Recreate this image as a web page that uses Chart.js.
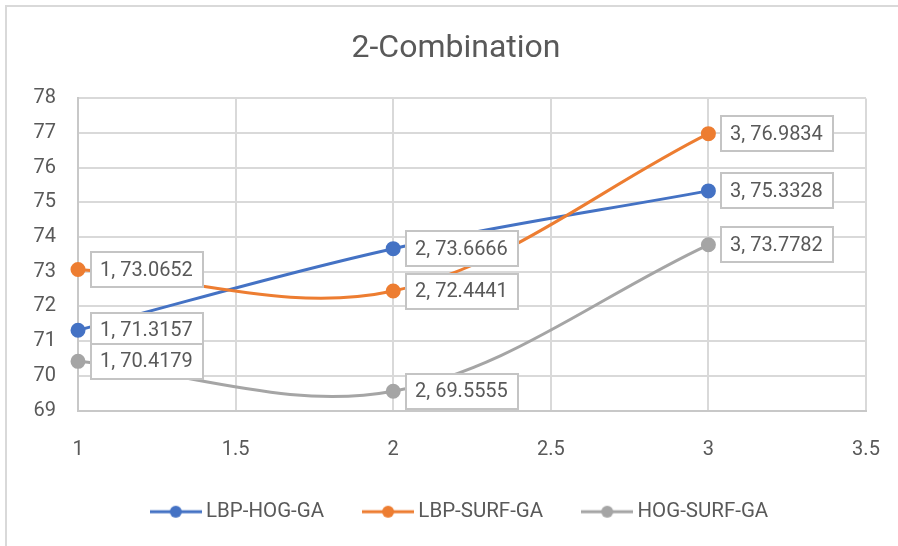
<!DOCTYPE html>
<html><head><meta charset="utf-8">
<script src="https://cdn.jsdelivr.net/npm/chart.js@4/dist/chart.umd.min.js"></script>
<style>
html,body{margin:0;padding:0;background:#fff;overflow:hidden}
#wrap{position:absolute;left:0;top:0;width:898px;height:546px;overflow:hidden}
#frame{position:absolute;left:5px;top:5px;width:1000px;height:1000px;border:2px solid #d9d9d9;box-sizing:border-box}
canvas{position:absolute;left:0;top:0}
</style></head>
<body>
<div id="wrap"><div id="frame"></div><canvas id="c" width="898" height="546"></canvas></div>
<script>
const titleText = '2-Combination';
const xValues = [1, 2, 3];
const seriesNames = ['LBP-HOG-GA', 'LBP-SURF-GA', 'HOG-SURF-GA'];
const lbpHog = [71.3157, 73.6666, 75.3328];
const lbpSurf = [73.0652, 72.4441, 76.9834];
const hogSurf = [70.4179, 69.5555, 73.7782];
const seriesColors = ['#4472C4', '#ED7D31', '#A5A5A5'];
const xTicks = [1, 1.5, 2, 2.5, 3, 3.5];
const yTicks = [69, 70, 71, 72, 73, 74, 75, 76, 77, 78];

const FONT = 'Roboto, "Liberation Sans", sans-serif';
const TXT = '#595959';

const seriesValues = [lbpHog, lbpSurf, hogSurf];

function legendIcon(color) {
  const c = document.createElement('canvas');
  c.width = 52; c.height = 14;
  const g = c.getContext('2d');
  g.strokeStyle = color; g.lineWidth = 3;
  g.beginPath(); g.moveTo(0, 7); g.lineTo(52, 7); g.stroke();
  g.fillStyle = color;
  g.beginPath(); g.arc(26, 7, 6, 0, Math.PI * 2); g.fill();
  return c;
}
const icons = seriesColors.map(legendIcon);

const datasets = seriesValues.map((vals, i) => ({
  label: seriesNames[i],
  data: xValues.map((x, j) => ({x: x, y: vals[j]})),
  borderColor: seriesColors[i],
  backgroundColor: seriesColors[i],
  pointBackgroundColor: seriesColors[i],
  pointBorderColor: seriesColors[i],
  pointRadius: 6,
  pointHoverRadius: 6,
  borderWidth: 3,
  showLine: true,
  tension: 0.35,
  clip: false,
  order: seriesValues.length - i
}));

const boxLabels = {
  id: 'boxLabels',
  afterDatasetsDraw(chart) {
    const ctx = chart.ctx;
    ctx.save();
    ctx.font = '20px ' + FONT;
    ctx.textBaseline = 'middle';
    ctx.textAlign = 'left';
    chart.data.datasets.forEach((ds, di) => {
      const meta = chart.getDatasetMeta(di);
      meta.data.forEach((pt, i) => {
        const raw = ds.data[i];
        const text = raw.x + ', ' + raw.y.toFixed(4);
        const w = Math.round(ctx.measureText(text).width + 19);
        const h = 35;
        const x = Math.round(pt.x + 13), y = Math.round(pt.y - h / 2);
        ctx.fillStyle = '#ffffff';
        ctx.fillRect(x, y, w, h);
        ctx.strokeStyle = '#c4c4c4';
        ctx.lineWidth = 2;
        ctx.strokeRect(x, y, w, h);
        ctx.fillStyle = TXT;
        ctx.fillText(text, x + 9, pt.y + 1);
      });
    });
    ctx.restore();
  }
};

const shiftBoxes = {
  id: 'shiftBoxes',
  afterLayout(chart) {
    if (chart.legend) { chart.legend.left += 29; chart.legend.right += 29; }
    if (chart.titleBlock) { chart.titleBlock.left += 23; chart.titleBlock.right += 23; }
  }
};

new Chart(document.getElementById('c'), {
  type: 'scatter',
  data: {datasets: datasets},
  plugins: [boxLabels, shiftBoxes],
  options: {
    responsive: false,
    animation: false,
    devicePixelRatio: 1,
    layout: {padding: {left: 0, right: 32, top: 0, bottom: 14}},
    plugins: {
      tooltip: {enabled: false},
      title: {
        display: true,
        text: titleText,
        color: TXT,
        font: {family: FONT, size: 32, weight: 'normal', lineHeight: 1.2},
        padding: {top: 30, bottom: 30}
      },
      legend: {
        position: 'bottom',
        labels: {
          usePointStyle: true,
          pointStyleWidth: 40,
          padding: 44,
          color: TXT,
          font: {family: FONT, size: 20.5},
          generateLabels(chart) {
            const items = Chart.defaults.plugins.legend.labels.generateLabels(chart);
            items.forEach(it => { it.pointStyle = icons[it.datasetIndex]; it.fontColor = TXT; });
            return items;
          },
          sort: (a, b) => a.datasetIndex - b.datasetIndex
        }
      }
    },
    scales: {
      x: {
        type: 'linear',
        min: xTicks[0],
        max: xTicks[xTicks.length - 1],
        afterBuildTicks: s => { s.ticks = xTicks.map(v => ({value: v})); },
        afterFit: s => { s.height = 47; s.paddingLeft = 0; s.paddingRight = 0; },
        ticks: {color: TXT, font: {family: FONT, size: 20}, padding: 27, maxRotation: 0,
                callback: v => String(v)},
        grid: {color: '#d9d9d9', lineWidth: 2, drawTicks: false},
        border: {color: '#c8c8c8', width: 2}
      },
      y: {
        type: 'linear',
        min: yTicks[0],
        max: yTicks[yTicks.length - 1],
        afterBuildTicks: s => { s.ticks = yTicks.map(v => ({value: v})); },
        afterFit: s => { s.width = 78; s.paddingTop = 0; s.paddingBottom = 0; },
        ticks: {color: TXT, font: {family: FONT, size: 20}, padding: 22,
                callback: v => String(v)},
        grid: {color: '#d9d9d9', lineWidth: 2, drawTicks: false},
        border: {color: '#c8c8c8', width: 2}
      }
    }
  }
});
</script>
</body></html>
